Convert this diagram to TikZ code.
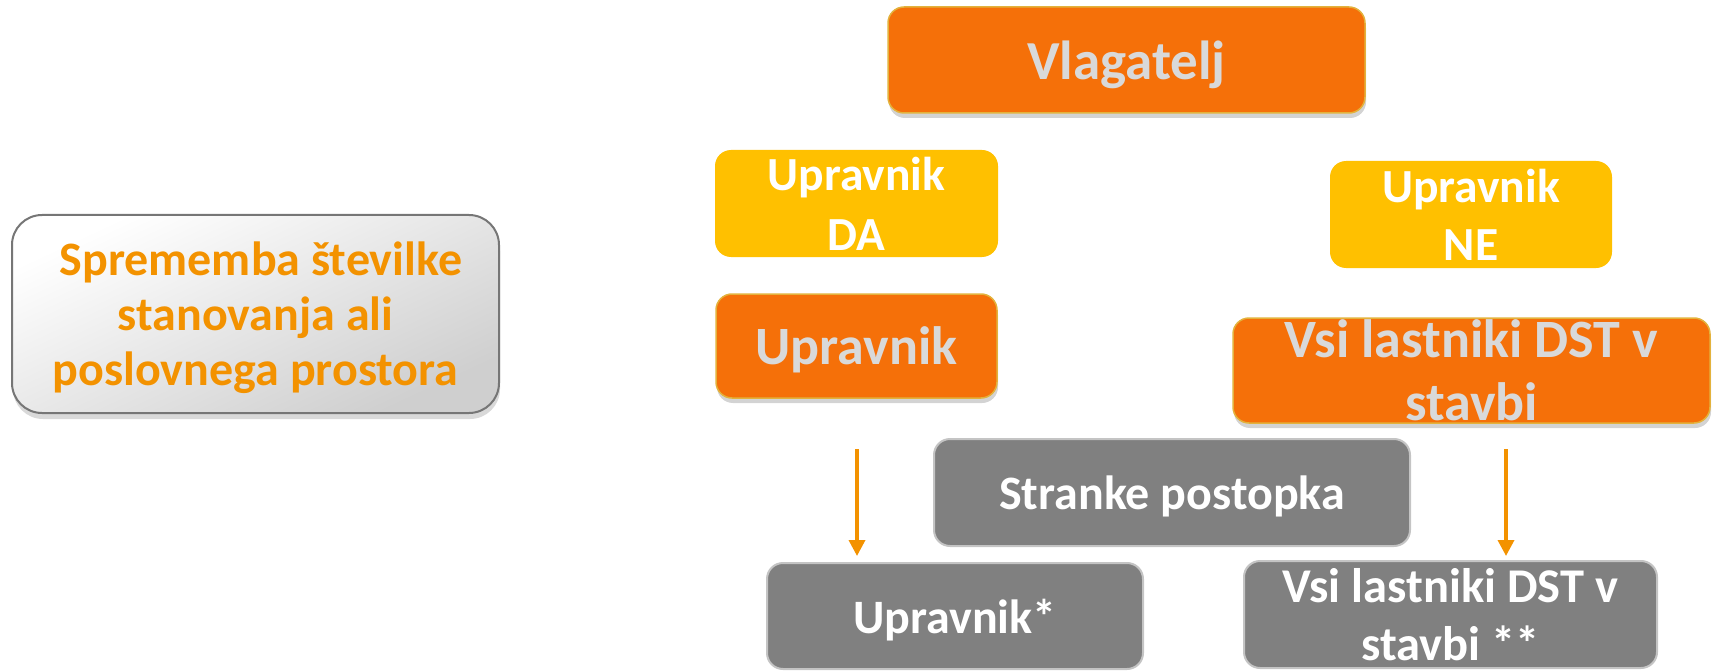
\documentclass[tikz,border=0pt]{standalone}
\usepackage{fontspec}
\setmainfont{Carlito}
\usetikzlibrary{shadows,arrows.meta}
\definecolor{orng}{HTML}{F57009}
\definecolor{orngtxt}{HTML}{D9D9D9}
\definecolor{orngbd}{HTML}{E3B23C}
\definecolor{yel}{HTML}{FFC000}
\definecolor{gry}{HTML}{808080}
\definecolor{grybd}{HTML}{C4C4C4}
\definecolor{lefttxt}{HTML}{F39200}
\definecolor{leftbd}{HTML}{767676}
\definecolor{arrc}{HTML}{F39200}
\newcommand\fsz[2]{\fontsize{#1}{#2}\selectfont\bfseries}
\begin{document}
\begin{tikzpicture}[x=1pt,y=-1pt,
  box/.style={rectangle, rounded corners=16pt, inner sep=0pt, align=center, text depth=0pt},
  orangebox/.style={box, fill=orng, draw=orngbd, line width=1.5pt, text=orngtxt,
    drop shadow={shadow xshift=1pt, shadow yshift=-5pt, opacity=0.35}},
  yellowbox/.style={box, fill=yel, text=white},
  graybox/.style={box, fill=gry, draw=grybd, line width=2pt, text=white},
  leftbox/.style={box, rounded corners=30pt, draw=leftbd, line width=2pt, text=lefttxt,
    top color=white, bottom color=black!19, shading angle=25,
    drop shadow={shadow xshift=1pt, shadow yshift=-6pt, opacity=0.3}},
  arr/.style={draw=arrc, line width=3.5pt, -{Triangle[width=16pt,length=16pt]}}
]
\useasboundingbox (0,0) rectangle (1713,671);

\node[leftbox, minimum width=487pt, minimum height=198pt, font=\fsz{48}{55}] (chg) at (255.5,314)
  {\ Sprememba številke\\stanovanja ali\\poslovnega prostora};

\node[orangebox, minimum width=477pt, minimum height=106pt, font=\fsz{55}{66}] (vl) at (1126.5,60) {Vlagatelj};

\node[yellowbox, minimum width=283pt, minimum height=107pt, font=\fsz{47.5}{60}] (da) at (856.5,203.5) {Upravnik\\DA};
\node[yellowbox, minimum width=282pt, minimum height=107pt, font=\fsz{47.5}{58}] (ne) at (1471,214.5) {Upravnik\\NE};

\node[orangebox, minimum width=281pt, minimum height=104pt, font=\fsz{54}{60}] (upr) at (856.5,346) {Upravnik};
\node[orangebox, minimum width=477pt, minimum height=105pt, font=\fsz{54}{63}] (vsi) at (1471.5,370.5) {Vsi lastniki DST v\\stavbi};

\node[graybox, minimum width=476pt, minimum height=107pt, font=\fsz{48}{55}] (str) at (1172,492.5) {Stranke postopka};
\node[graybox, minimum width=376pt, minimum height=106pt, font=\fsz{48}{55}] (uprs) at (955,616) {Upravnik*};
\node[graybox, minimum width=413pt, minimum height=107pt, font=\fsz{48.5}{58}] (vsis) at (1450.5,614.5) {Vsi lastniki DST v\\stavbi **};

\coordinate (a1s) at (857,449);
\coordinate (a1e) at (857,556);
\coordinate (a2s) at (1506,449);
\coordinate (a2e) at (1506,556);
\draw[arr] (a1s) -- (a1e);
\draw[arr] (a2s) -- (a2e);
\end{tikzpicture}
\end{document}
